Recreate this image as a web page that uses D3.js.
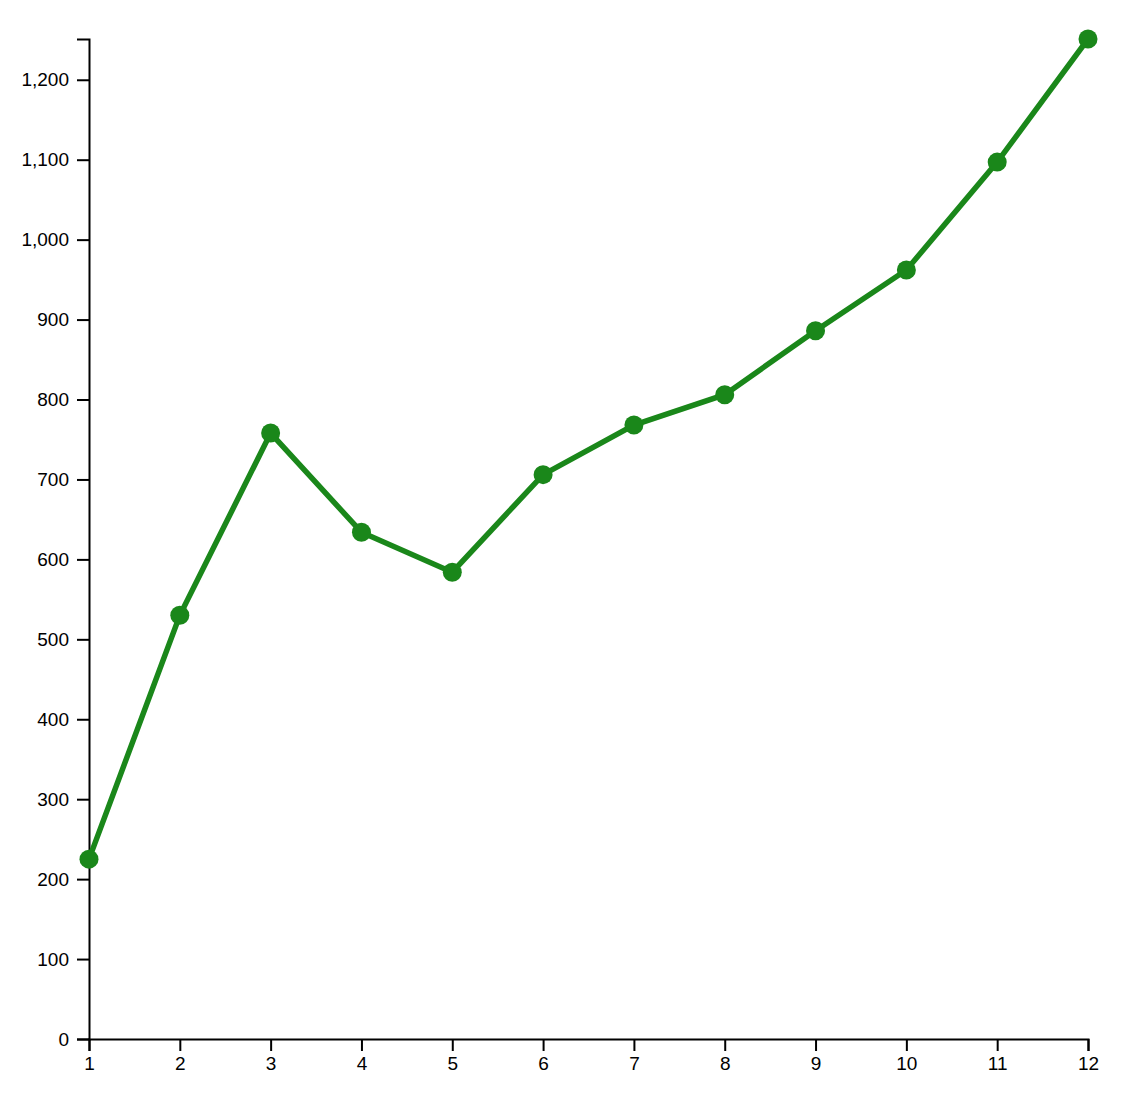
<!DOCTYPE html>
<html>
<head>
<meta charset="utf-8">
<script src="https://cdn.jsdelivr.net/npm/d3@7"></script>
<style>
  body { margin: 0; background: #fff; }
  svg { display: block; }
  .axis text { font-family: "Liberation Sans", Helvetica, Arial, sans-serif; font-size: 19px; fill: #000; }
  .axis path, .axis line { stroke: #000; stroke-width: 2px; }
</style>
</head>
<body>
<svg id="chart" width="1144" height="1096"></svg>
<script>
const months = [1, 2, 3, 4, 5, 6, 7, 8, 9, 10, 11, 12];
const values = [225, 530, 758, 634, 584, 706, 768, 806, 886, 962, 1097, 1251];

const width = 1144, height = 1096;
const margin = { top: 39, right: 56, bottom: 57, left: 89 };
const svg = d3.select("#chart");

const x = d3.scaleLinear()
  .domain(d3.extent(months))
  .range([margin.left, width - margin.right]);
const y = d3.scaleLinear()
  .domain([0, d3.max(values)])
  .range([height - margin.bottom, margin.top]);

const data = months.map((m, i) => ({ m, v: values[i] }));

svg.append("g")
  .attr("class", "axis")
  .attr("transform", `translate(0,${height - margin.bottom})`)
  .call(d3.axisBottom(x).tickValues(months).tickFormat(d3.format("d")).tickSize(12).tickPadding(6));

svg.append("g")
  .attr("class", "axis")
  .attr("transform", `translate(${margin.left},0)`)
  .call(d3.axisLeft(y).ticks(12).tickFormat(d3.format(",")).tickSize(12).tickPadding(8));

const line = d3.line().x(d => x(d.m)).y(d => y(d.v));
svg.append("path")
  .datum(data)
  .attr("fill", "none")
  .attr("stroke", "#1a871a")
  .attr("stroke-width", 5.5)
  .attr("d", line);

svg.append("g").selectAll("circle")
  .data(data)
  .join("circle")
  .attr("cx", d => x(d.m))
  .attr("cy", d => y(d.v))
  .attr("r", 9.5)
  .attr("fill", "#1a871a");
</script>
</body>
</html>
